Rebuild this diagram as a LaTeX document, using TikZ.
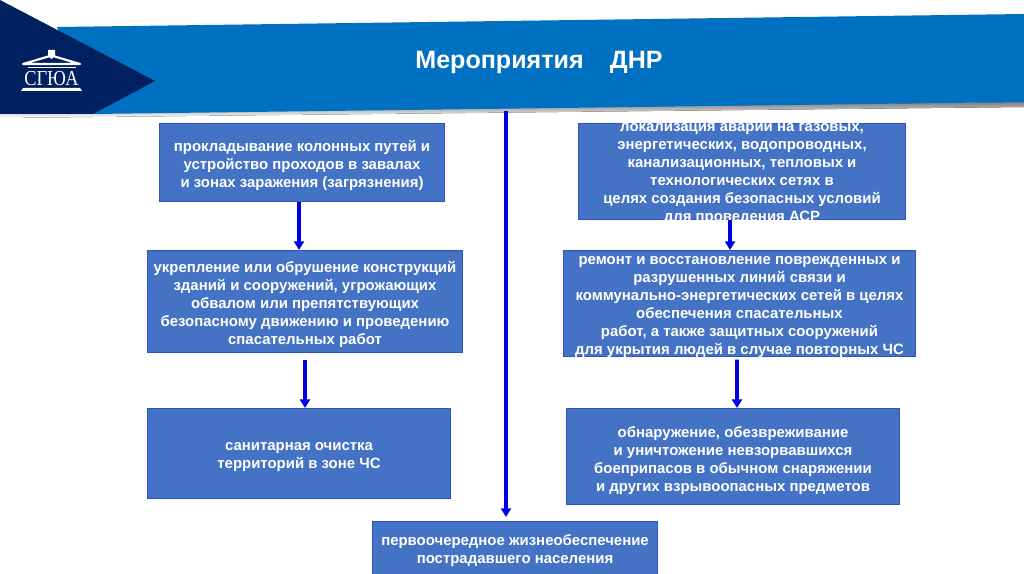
\documentclass[tikz,border=0pt]{standalone}
\usepackage{fontspec}
\setmainfont{Liberation Sans}
\newfontfamily\logofont[FakeStretch=0.86]{Liberation Serif}
\usetikzlibrary{arrows.meta}

\begin{document}
\begin{tikzpicture}[
  x=0.75pt,y=-0.75pt,
  >={Triangle[length=6.5pt,width=7.5pt]},
  bxt/.style={text=white,align=center,inner sep=0pt,
    font=\fontsize{11.2}{13.5}\selectfont\bfseries},
  bx/.style={draw=boxline,fill=boxfill,line width=0.9pt,inner sep=0pt},
  flow/.style={->,draw=flowblue,line width=2.8pt},
  ttl/.style={text=white,font=\fontsize{18.8}{22}\selectfont\bfseries},
  logo/.style={text=white,inner sep=0pt,font=\fontsize{16}{16}\selectfont\logofont}]

  \definecolor{boxfill}{HTML}{4472C4}
  \definecolor{boxline}{HTML}{2F52C8}
  \definecolor{flowblue}{HTML}{0000E6}
  \definecolor{bandblue}{HTML}{0070C0}
  \definecolor{navy}{HTML}{002060}
  \definecolor{shade}{HTML}{EEF2F9}

  \useasboundingbox (0,0) rectangle (1024,574);

  \fill[shade] (0,114) -- (1024,102) -- (1024,107) -- (0,118) -- cycle;
  \fill[bandblue] (57,27) -- (1024,14) -- (1024,102) -- (93,114) -- cycle;
  \fill[navy] (0,0) -- (155,81) -- (93,114) -- (0,114) -- cycle;

  % logo
  \draw[white,line width=1.6pt,line join=round] (23,64) -- (50,56) -- (53,56) -- (80,64) -- cycle;
  \draw[white,line width=1pt] (28,67.5) -- (76,67.5);
  \fill[white] (48,50) -- (55,50) -- (55,56) -- (51.5,59) -- (48,56) -- cycle;
  \fill[white] (23,88) -- (80,88) -- (82,91) -- (21,91) -- cycle;
  \node[logo] (brand) at (51.5,78.5) {СГЮА};

  \node[ttl] (title) at (539,62.5) {Мероприятия\hspace{1.05em}ДНР};
  \coordinate (bandfoot) at (506,111);

  \node[bx,minimum width=213.6pt,minimum height=58.35pt] (roads) at (302,162.5) {};
  \node[bxt] (roadstext) at ([yshift=-2.2pt]roads)
    {прокладывание колонных путей и\\ устройство проходов в завалах\\ и зонах заражения (загрязнения)};
  \node[bx,minimum width=236.1pt,minimum height=76.35pt] (walls) at (305,301.5) {};
  \node[bxt] (wallstext) at ([yshift=-2.2pt]walls)
    {укрепление или обрушение конструкций\\ зданий и сооружений, угрожающих\\ обвалом или препятствующих\\ безопасному движению и проведению\\ спасательных работ};
  \node[bx,minimum width=227.1pt,minimum height=67.35pt] (clean) at (299,453.5) {};
  \node[bxt] (cleantext) at ([yshift=-3pt]clean)
    {санитарная очистка\\ территорий в зоне ЧС};

  \node[bx,minimum width=245.1pt,minimum height=71.85pt] (gas) at (742,171.5) {};
  \node[bxt] (gastext) at ([yshift=-2.25pt]gas)
    {локализация аварии на газовых,\\ энергетических, водопроводных,\\ канализационных, тепловых и\\ технологических сетях в\\ целях создания безопасных условий\\ для проведения АСР};
  \node[bx,minimum width=263.85pt,minimum height=79.35pt] (repair) at (739.5,303.5) {};
  \node[bxt] (repairtext) at ([yshift=-3pt]repair)
    {ремонт и восстановление поврежденных и\\ разрушенных линий связи и\\ коммунально-энергетических сетей в целях\\ обеспечения спасательных\\ работ, а также защитных сооружений\\ для укрытия людей в случае повторных ЧС};
  \node[bx,minimum width=249.6pt,minimum height=71.85pt] (mines) at (733,456.5) {};
  \node[bxt] (minestext) at ([yshift=-2.7pt]mines)
    {обнаружение, обезвреживание\\ и уничтожение невзорвавшихся\\ боеприпасов в обычном снаряжении\\ и других взрывоопасных предметов};

  \node[bx,minimum width=213.6pt,minimum height=41.1pt] (supply) at (515,549) {};
  \node[bxt] (supplytext) at ([yshift=-1.5pt]supply)
    {первоочередное жизнеобеспечение\\ пострадавшего населения};

  \draw[flow] ([xshift=-2.25pt]roads.south) -- ([xshift=-4.5pt]walls.north);
  \draw[flow] ([yshift=-5pt]walls.south) -- ([xshift=4.5pt]clean.north);
  \draw[flow] ([xshift=-9pt]gas.south) -- ([xshift=-7.1pt]repair.north);
  \draw[flow] ([xshift=-1.9pt,yshift=-2pt]repair.south) -- ([xshift=3pt]mines.north);
  \draw[flow,shorten >=3pt] (bandfoot) -- ([xshift=-6.75pt]supply.north);
\end{tikzpicture}
\end{document}
